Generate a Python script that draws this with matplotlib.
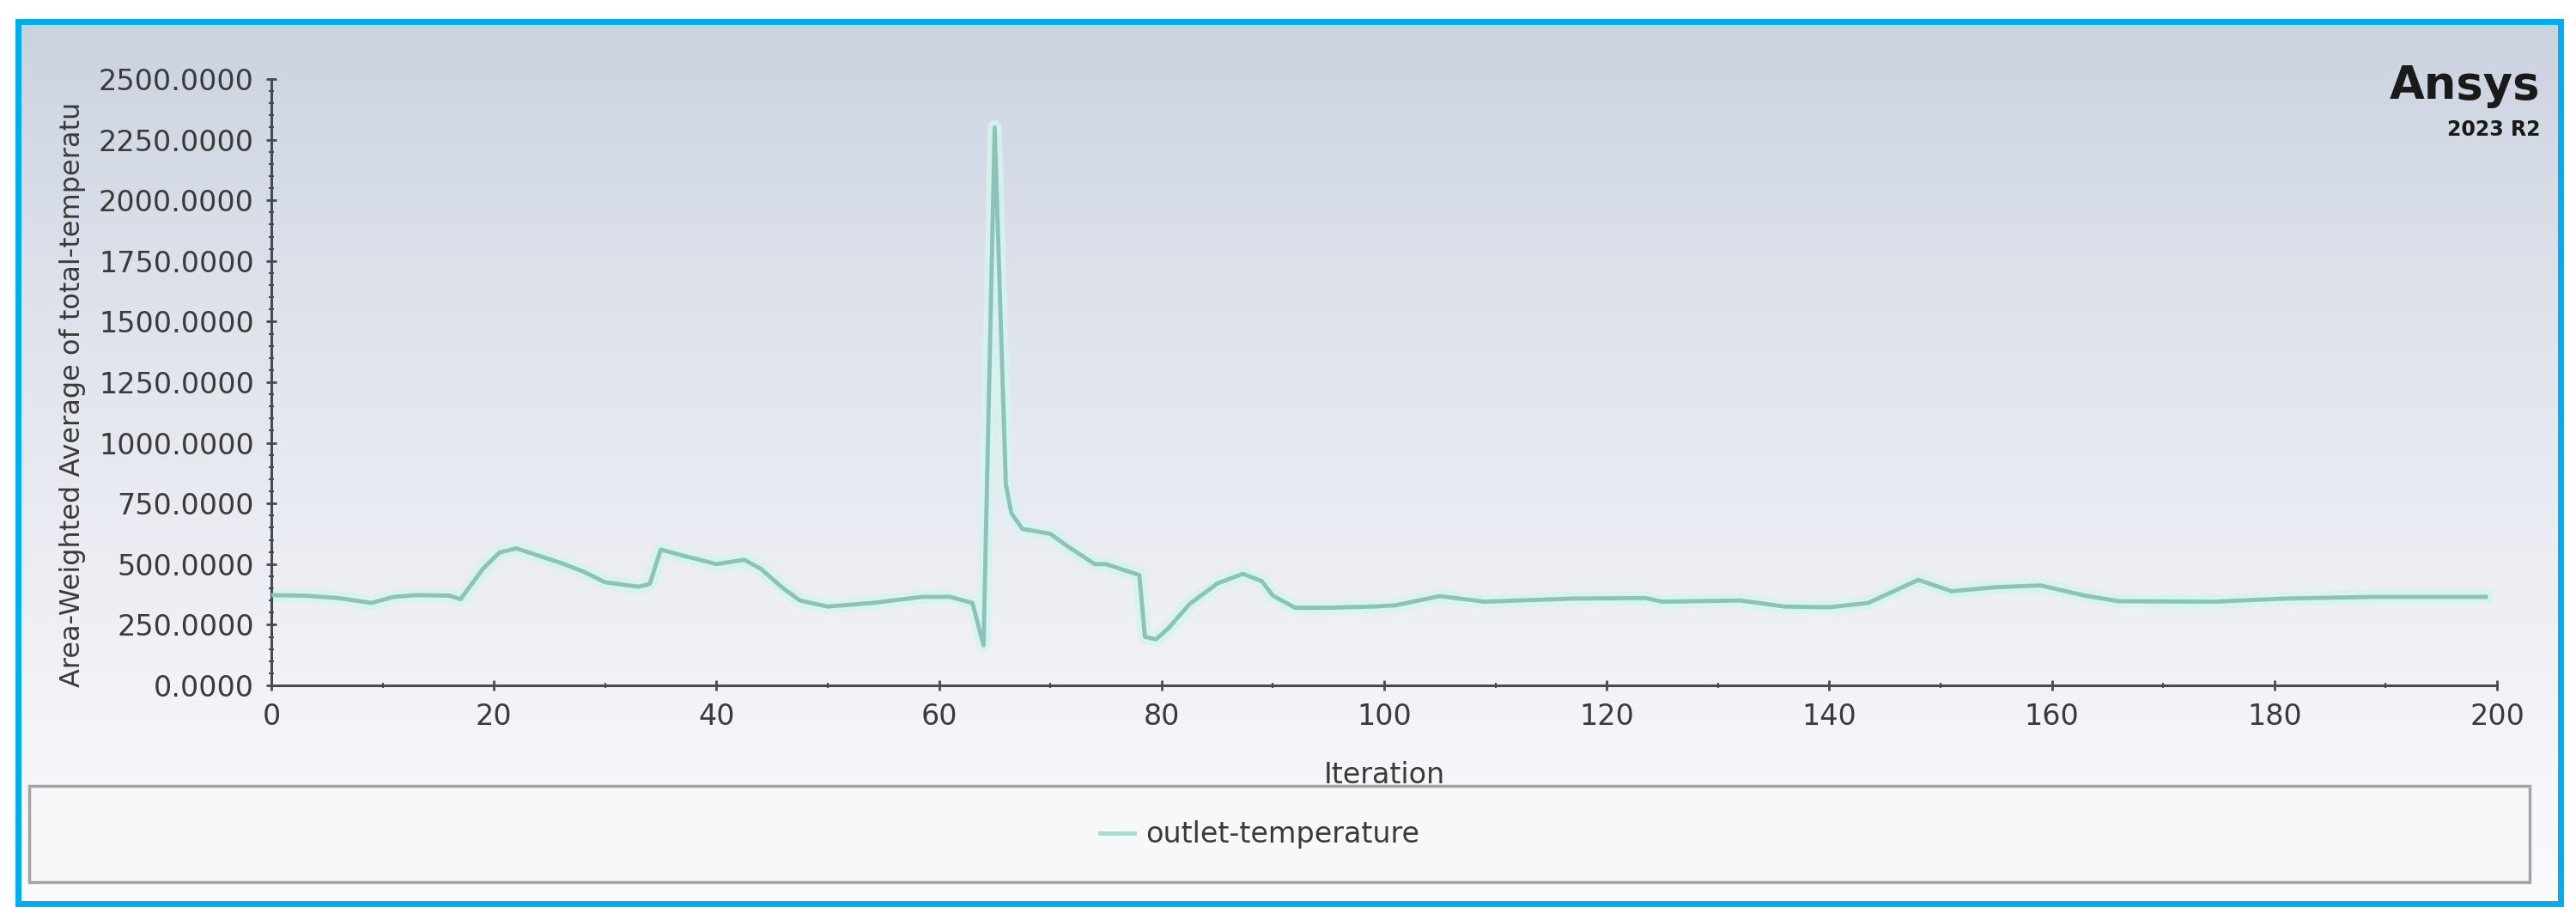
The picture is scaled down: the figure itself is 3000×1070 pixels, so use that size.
import matplotlib
matplotlib.use('Agg')
import matplotlib.pyplot as plt
import numpy as np
from matplotlib.patches import Rectangle
from matplotlib.lines import Line2D

# outlet-temperature report
iteration = [0, 3, 6, 9, 11, 13, 16, 17, 19, 20.5, 22, 24, 26, 28, 30, 33, 34,
             35, 37, 40, 42.5, 44, 46, 47.5, 50, 54, 58.5, 61, 63, 64, 65, 66,
             66.5, 67.5, 70, 71.5, 74, 75, 78, 78.5, 79.5, 80.6, 82.5, 85, 87.3,
             89, 90, 92, 95, 99, 101, 105, 109, 117, 123.5, 125, 132, 136, 140,
             143.5, 148, 151, 155, 159, 163, 166, 174.5, 181, 189, 199]
temperature = [372, 370, 360, 340, 365, 372, 370, 355, 480, 548, 565, 535, 505,
               470, 425, 407, 418, 560, 535, 500, 518, 480, 400, 350, 325, 340,
               365, 365, 340, 165, 2300, 830, 710, 645, 625, 575, 500, 500, 455,
               200, 190, 235, 335, 420, 460, 430, 370, 320, 320, 325, 330, 368,
               345, 358, 360, 345, 350, 325, 322, 340, 435, 388, 405, 412, 370,
               347, 345, 358, 365, 365]
yticks = [0, 250, 500, 750, 1000, 1250, 1500, 1750, 2000, 2250, 2500]
xticks = [0, 20, 40, 60, 80, 100, 120, 140, 160, 180, 200]

W, H = 3000, 1070
fig = plt.figure(figsize=(W / 100, H / 100), dpi=100)
fig.patch.set_facecolor('white')

# background gradient inside the blue frame
bg = fig.add_axes([0, 0, 1, 1], zorder=-10)
grad = np.linspace(0, 1, 256).reshape(-1, 1)
top = np.array([0.79, 0.82, 0.875])
bot = np.array([0.985, 0.985, 0.99])
img = top + (bot - top) * grad[:, :, None] ** 0.8
bg.imshow(img, extent=[18 / W, 2985 / W, 1 - 1055 / H, 1 - 22 / H],
          aspect='auto', origin='upper')
bg.set_xlim(0, 1)
bg.set_ylim(0, 1)
bg.axis('off')

# legend box
bg.add_patch(Rectangle((34 / W, 1 - 1027 / H), (2946 - 34) / W, (1027 - 915) / H,
                       facecolor='#f8f8fa', edgecolor='#a3a3a8', lw=2.5))
# blue frame
bg.add_patch(Rectangle((21 / W, 1 - 1052 / H), (2982 - 21) / W, (1052 - 25) / H,
                       facecolor='none', edgecolor='#00aeef', lw=5))

ax = fig.add_axes([316 / W, 1 - 798 / H, (2908 - 316) / W, (798 - 92) / H])
ax.patch.set_alpha(0)
ax.plot(iteration, temperature, color='#d4f5ef', lw=12, alpha=0.8,
        solid_joinstyle='round', zorder=2)
ax.plot(iteration, temperature, color='#8cc3b8', lw=3.5,
        solid_joinstyle='round', zorder=3)

ax.set_xlim(0, 200)
ax.set_ylim(0, 2500)
ax.set_xticks(xticks)
ax.set_yticks(yticks)
ax.set_yticklabels(['%.4f' % v for v in yticks])
ax.set_xticks(np.arange(0, 201, 10), minor=True)
ax.set_yticks(np.arange(0, 2501, 50), minor=True)
for s in ['top', 'right']:
    ax.spines[s].set_visible(False)
for s in ['left', 'bottom']:
    ax.spines[s].set_color('#454a55')
    ax.spines[s].set_linewidth(2.2)
ax.tick_params(which='major', direction='inout', length=9, width=2,
               color='#454a55', labelsize=24, labelcolor='#3a3a3a', pad=10)
ax.tick_params(which='minor', direction='inout', length=5, width=1.5,
               color='#454a55')

ax.set_xlabel('Iteration', fontsize=24, color='#3a3a3a')
ax.xaxis.set_label_coords(0.5, -0.125)
ax.set_ylabel('Area-Weighted Average of total-temperatu', fontsize=23,
              color='#3a3a3a')
ax.yaxis.set_label_coords(-0.0835, 0.48)

h = Line2D([], [], color='#a6ddd0', lw=3.5)
fig.legend([h], ['outlet-temperature'], loc='center',
           bbox_to_anchor=(0.489, 1 - 972 / H), frameon=False, fontsize=24,
           handlelength=1.2, handletextpad=0.4, labelcolor='#3a3a3a')

fig.text(2958 / W, 1 - 100 / H, 'Ansys', ha='right', va='center',
         fontsize=38, fontweight='bold', color='#1a1a1a')
fig.text(2958 / W, 1 - 151 / H, '2023 R2', ha='right', va='center',
         fontsize=17, fontweight='bold', color='#1a1a1a')

fig.savefig('out.png', dpi=100)
